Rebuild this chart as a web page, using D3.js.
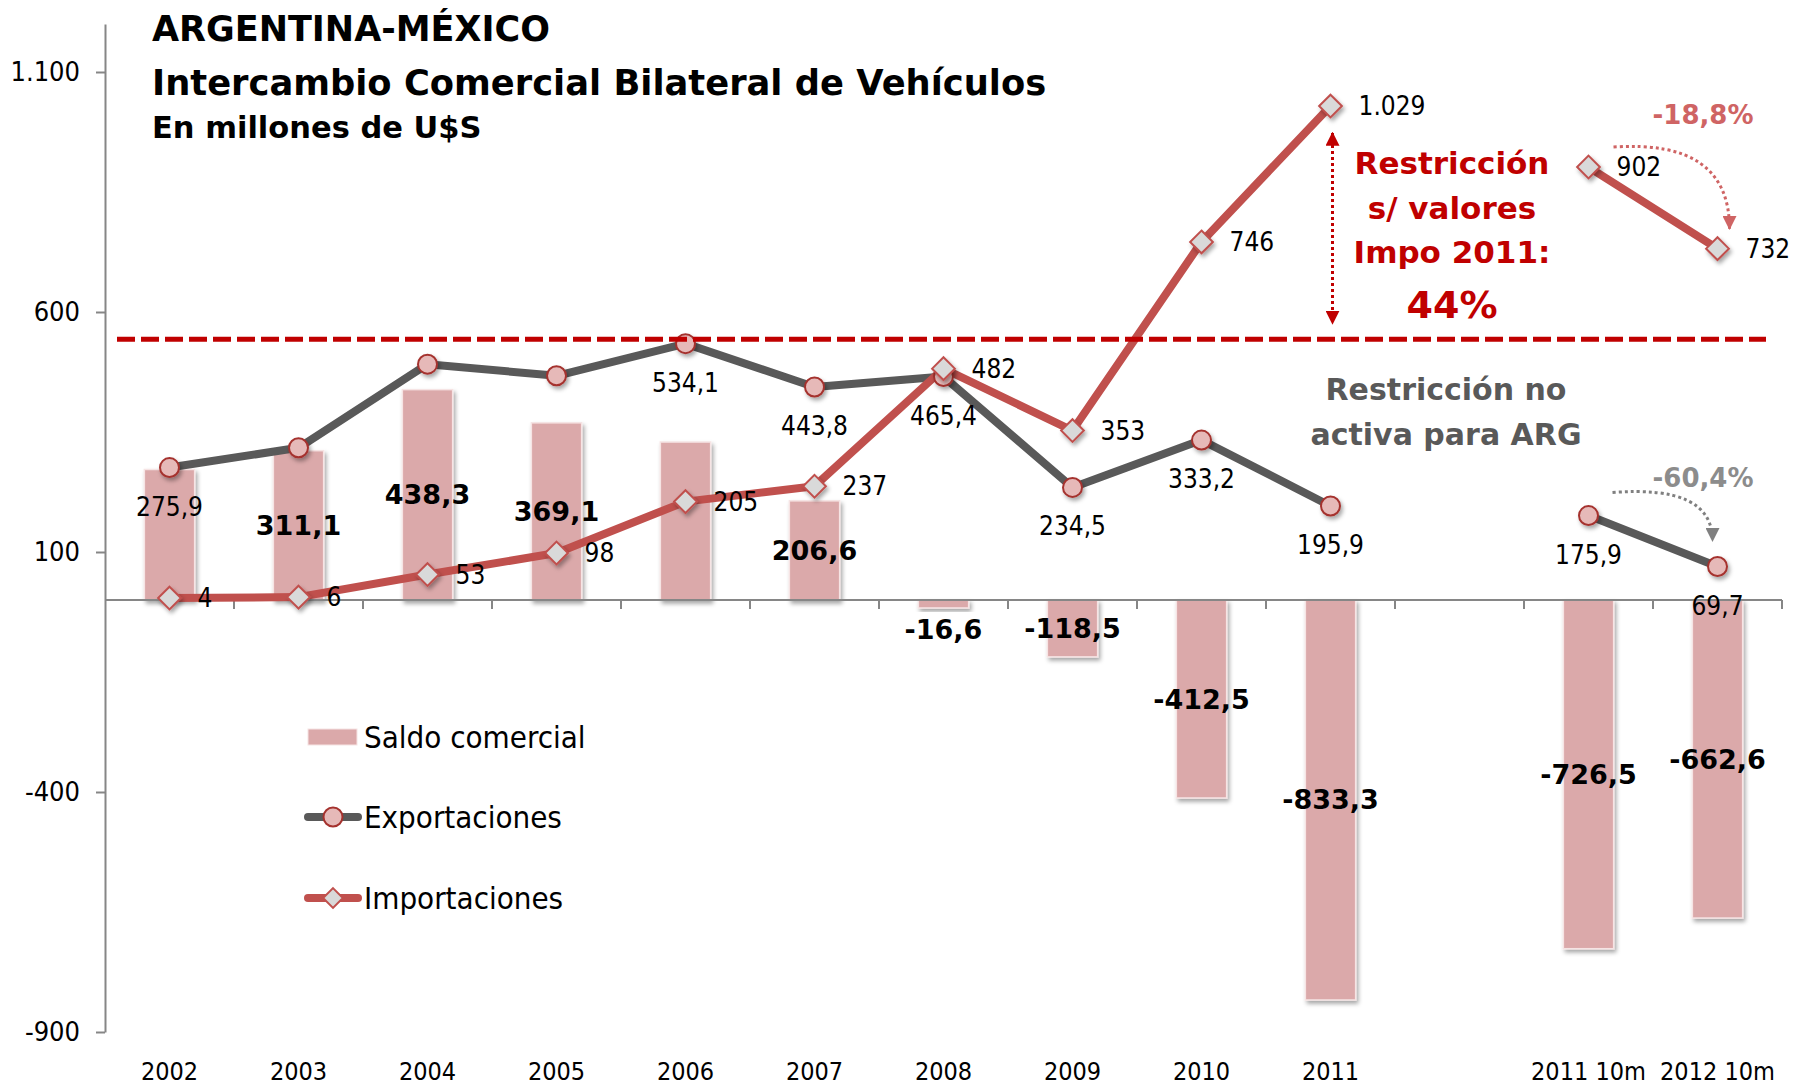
<!DOCTYPE html>
<html>
<head>
<meta charset="utf-8">
<script src="https://cdn.jsdelivr.net/npm/d3@7"></script>
<style>
  body { margin: 0; background: #fff; }
  svg { font-family: "DejaVu Sans Condensed", "DejaVu Sans", sans-serif; }
  .bold { font-family: "DejaVu Sans", sans-serif; font-weight: bold; }
</style>
</head>
<body>
<svg width="1800" height="1088"></svg>
<script>
// categories ('' is the empty slot between 2011 and the 10-month columns)
const categories    = ['2002', '2003', '2004', '2005', '2006', '2007', '2008', '2009', '2010', '2011', '', '2011 10m', '2012 10m'];
const exportaciones = [275.9, 317.1, 491.3, 467.1, 534.1, 443.8, 465.4, 234.5, 333.2, 195.9, null, 175.9, 69.7];
const importaciones = [4, 6, 53, 98, 205, 237, 482, 353, 746, 1029, null, 902, 732];
const saldo         = [271.9, 311.1, 438.3, 369.1, 329.1, 206.6, -16.6, -118.5, -412.5, -833.3, null, -726.5, -662.6];

// which data labels appear in the original
const expLabelShown   = [1, 0, 0, 0, 1, 1, 1, 1, 1, 1, 0, 1, 1];
const saldoLabelShown = [0, 1, 1, 1, 0, 1, 1, 1, 1, 1, 0, 1, 1];

const yTicks = [-900, -400, 100, 600, 1100];
const restriccion = 543;   // dashed reference line

const svg = d3.select('svg');
const width  = +svg.attr('width');
const height = +svg.attr('height');

const es = d3.formatLocale({ decimal: ',', thousands: '.', grouping: [3], currency: ['$', ''], minus: '-' });
const fmtInt = es.format(',');
const fmtDec = es.format(',.1f');

const margin = { top: 24, right: 18, bottom: 56, left: 105 };

const x = d3.scaleBand()
  .domain(categories)
  .range([margin.left, width - margin.right]);

const y = d3.scaleLinear()
  .domain([-900, 1200])
  .range([height - margin.bottom, margin.top]);

const cx = c => x(c) + x.bandwidth() / 2;
const barW = x.bandwidth() * 0.39;

// defs: shadow + arrowheads
const defs = svg.append('defs');
const shadow = defs.append('filter').attr('id', 'shadow')
  .attr('x', '-50%').attr('y', '-50%').attr('width', '200%').attr('height', '200%');
shadow.append('feDropShadow')
  .attr('dx', 2).attr('dy', 3).attr('stdDeviation', 2)
  .attr('flood-color', '#000').attr('flood-opacity', 0.35);

const arrow = (id, color) => defs.append('marker')
  .attr('id', id)
  .attr('viewBox', '0 0 10 10')
  .attr('refX', 9).attr('refY', 5)
  .attr('markerUnits', 'userSpaceOnUse')
  .attr('markerWidth', 14).attr('markerHeight', 14)
  .attr('orient', 'auto-start-reverse')
  .append('path').attr('d', 'M0,0 L10,5 L0,10 z').attr('fill', color);
arrow('arrRed', '#c00000');
arrow('arrPink', '#cf6464');
arrow('arrGray', '#808080');

const rows = categories.map((c, i) => ({
  c, exp: exportaciones[i], imp: importaciones[i], sal: saldo[i],
  expShown: expLabelShown[i], salShown: saldoLabelShown[i]
}));

// y axis
const yAxisG = svg.append('g')
  .attr('transform', `translate(${margin.left},0)`)
  .call(d3.axisLeft(y).tickValues(yTicks).tickFormat(fmtInt).tickSize(9).tickSizeOuter(0).tickPadding(16));
yAxisG.selectAll('.domain, .tick line').attr('stroke', '#868686').attr('stroke-width', 2);
yAxisG.selectAll('.tick text').attr('font-size', 27).attr('fill', '#000')
  .attr('font-family', '"DejaVu Sans Condensed", "DejaVu Sans", sans-serif');

// category labels at the bottom
const xAxisG = svg.append('g')
  .attr('transform', `translate(0,${y(-900)})`)
  .call(d3.axisBottom(x).tickSize(0).tickPadding(30));
xAxisG.select('.domain').remove();
xAxisG.selectAll('.tick text').attr('font-size', 25).attr('fill', '#000')
  .attr('font-family', '"DejaVu Sans Condensed", "DejaVu Sans", sans-serif');

// bars (saldo comercial)
svg.append('g').selectAll('rect')
  .data(rows.filter(d => d.sal != null)).enter()
  .append('rect')
    .attr('x', d => cx(d.c) - barW / 2)
    .attr('width', barW)
    .attr('y', d => y(Math.max(0, d.sal)))
    .attr('height', d => Math.abs(y(d.sal) - y(0)))
    .attr('fill', '#dba9aa')
    .attr('stroke', '#f6e4e4')
    .attr('stroke-width', 1.5)
    .attr('filter', 'url(#shadow)');

// zero axis with band boundary ticks
svg.append('line')
  .attr('x1', x.range()[0]).attr('x2', x.range()[1])
  .attr('y1', y(0)).attr('y2', y(0))
  .attr('stroke', '#868686').attr('stroke-width', 2);
const bounds = categories.slice(1).map(c => x(c)).concat([x.range()[1]]);
svg.append('g').selectAll('line')
  .data(bounds).enter()
  .append('line')
    .attr('x1', d => d).attr('x2', d => d)
    .attr('y1', y(0)).attr('y2', y(0) + 9)
    .attr('stroke', '#868686').attr('stroke-width', 2);

// lines
const lineExp = d3.line().defined(d => d.exp != null).x(d => cx(d.c)).y(d => y(d.exp));
const lineImp = d3.line().defined(d => d.imp != null).x(d => cx(d.c)).y(d => y(d.imp));

svg.append('path').datum(rows)
  .attr('d', lineExp)
  .attr('fill', 'none').attr('stroke', '#595959').attr('stroke-width', 8)
  .attr('stroke-linejoin', 'round').attr('stroke-linecap', 'round');

svg.append('path').datum(rows)
  .attr('d', lineImp)
  .attr('fill', 'none').attr('stroke', '#c0504d').attr('stroke-width', 8)
  .attr('stroke-linejoin', 'round').attr('stroke-linecap', 'round');

// markers
svg.append('g').selectAll('circle')
  .data(rows.filter(d => d.exp != null)).enter()
  .append('circle')
    .attr('cx', d => cx(d.c)).attr('cy', d => y(d.exp))
    .attr('r', 9.5)
    .attr('fill', '#e6b9b8').attr('stroke', '#a5322e').attr('stroke-width', 2)
    .attr('filter', 'url(#shadow)');

const diamond = d3.symbol().type(d3.symbolDiamond2).size(330);
svg.append('g').selectAll('path')
  .data(rows.filter(d => d.imp != null)).enter()
  .append('path')
    .attr('d', diamond)
    .attr('transform', d => `translate(${cx(d.c)},${y(d.imp)})`)
    .attr('fill', '#d9d9d9').attr('stroke', '#c0504d').attr('stroke-width', 2)
    .attr('filter', 'url(#shadow)');

// dashed restriction line
svg.append('line')
  .attr('x1', x.range()[0] + 12).attr('x2', x.range()[1] - 16)
  .attr('y1', y(restriccion)).attr('y2', y(restriccion))
  .attr('stroke', '#c00000').attr('stroke-width', 5)
  .attr('stroke-dasharray', '18,6');

// data labels
svg.append('g').selectAll('text')
  .data(rows.filter(d => d.expShown)).enter()
  .append('text')
    .attr('x', d => cx(d.c)).attr('y', d => y(d.exp) + 39)
    .attr('text-anchor', 'middle').attr('dominant-baseline', 'central')
    .attr('font-size', 26)
    .text(d => fmtDec(d.exp));

svg.append('g').selectAll('text')
  .data(rows.filter(d => d.imp != null)).enter()
  .append('text')
    .attr('x', d => cx(d.c) + 28).attr('y', d => y(d.imp))
    .attr('dominant-baseline', 'central')
    .attr('font-size', 26)
    .text(d => fmtInt(d.imp));

svg.append('g').selectAll('text')
  .data(rows.filter(d => d.salShown)).enter()
  .append('text')
    .attr('class', 'bold')
    .attr('x', d => cx(d.c))
    .attr('y', d => Math.abs(y(d.sal) - y(0)) < 30 ? y(d.sal) + 22 : y(d.sal / 2))
    .attr('text-anchor', 'middle').attr('dominant-baseline', 'central')
    .attr('font-size', 27)
    .text(d => fmtDec(d.sal));

// title
const title = svg.append('g').attr('class', 'bold').attr('fill', '#000');
title.append('text').attr('x', 152).attr('y', 41).attr('font-size', 35).text('ARGENTINA-MÉXICO');
title.append('text').attr('x', 152).attr('y', 95).attr('font-size', 35.3).text('Intercambio Comercial Bilateral de Vehículos');
title.append('text').attr('x', 152).attr('y', 138).attr('font-size', 30.5).text('En millones de U$S');

// legend
const legend = svg.append('g').attr('transform', 'translate(308,0)');
legend.append('rect').attr('x', 0).attr('y', 729).attr('width', 49).attr('height', 16)
  .attr('fill', '#dba9aa').attr('stroke', '#f6e4e4');
legend.append('line').attr('x1', 0).attr('x2', 50).attr('y1', 817).attr('y2', 817)
  .attr('stroke', '#595959').attr('stroke-width', 8).attr('stroke-linecap', 'round');
legend.append('circle').attr('cx', 25).attr('cy', 817).attr('r', 9.5)
  .attr('fill', '#e6b9b8').attr('stroke', '#a5322e').attr('stroke-width', 2);
legend.append('line').attr('x1', 0).attr('x2', 50).attr('y1', 898).attr('y2', 898)
  .attr('stroke', '#c0504d').attr('stroke-width', 8).attr('stroke-linecap', 'round');
legend.append('path').attr('d', d3.symbol().type(d3.symbolDiamond2).size(250))
  .attr('transform', 'translate(25,898)')
  .attr('fill', '#d9d9d9').attr('stroke', '#c0504d').attr('stroke-width', 2);
[['Saldo comercial', 737], ['Exportaciones', 817], ['Importaciones', 898]].forEach(([t, ty]) => {
  legend.append('text').attr('x', 56).attr('y', ty)
    .attr('dominant-baseline', 'central').attr('font-size', 31).text(t);
});

// annotation: restriction on 2011 imports
const i2011 = categories.indexOf('2011');
const ax = cx('2011') + 2;
svg.append('line')
  .attr('x1', ax).attr('x2', ax)
  .attr('y1', y(importaciones[i2011]) + 27).attr('y2', y(restriccion) - 16)
  .attr('stroke', '#c00000').attr('stroke-width', 3).attr('stroke-dasharray', '3,3')
  .attr('marker-start', 'url(#arrRed)').attr('marker-end', 'url(#arrRed)');

const red = svg.append('g').attr('class', 'bold').attr('fill', '#c00000').attr('text-anchor', 'middle');
[['Restricción', 174], ['s/ valores', 219], ['Impo 2011:', 263]].forEach(([t, ty]) => {
  red.append('text').attr('x', 1452).attr('y', ty).attr('font-size', 31).text(t);
});
red.append('text').attr('x', 1452).attr('y', 318).attr('font-size', 38).text('44%');

const grey = svg.append('g').attr('class', 'bold').attr('fill', '#595959').attr('text-anchor', 'middle');
grey.append('text').attr('x', 1446).attr('y', 400).attr('font-size', 30).text('Restricción no');
grey.append('text').attr('x', 1446).attr('y', 445).attr('font-size', 30).text('activa para ARG');

// variation arrows between the 10-month columns
const iA = categories.indexOf('2011 10m');
const iB = categories.indexOf('2012 10m');
const curve = (p0, p1) => `M${p0[0]},${p0[1]} Q${p1[0]},${p0[1] - 8} ${p1[0]},${p1[1]}`;

svg.append('path')
  .attr('d', curve([cx(categories[iA]) + 25, y(importaciones[iA]) - 20], [cx(categories[iB]) + 12, y(importaciones[iB]) - 20]))
  .attr('fill', 'none').attr('stroke', '#cf6464').attr('stroke-width', 3).attr('stroke-dasharray', '3,3')
  .attr('marker-end', 'url(#arrPink)');
svg.append('text').attr('class', 'bold')
  .attr('x', 1703).attr('y', 124).attr('text-anchor', 'middle')
  .attr('font-size', 26).attr('fill', '#cf6464').text('-18,8%');

svg.append('path')
  .attr('d', curve([cx(categories[iA]) + 24, y(exportaciones[iA]) - 23], [cx(categories[iB]) - 5, y(exportaciones[iB]) - 26]))
  .attr('fill', 'none').attr('stroke', '#808080').attr('stroke-width', 3).attr('stroke-dasharray', '3,3')
  .attr('marker-end', 'url(#arrGray)');
svg.append('text').attr('class', 'bold')
  .attr('x', 1703).attr('y', 487).attr('text-anchor', 'middle')
  .attr('font-size', 26).attr('fill', '#8c8c8c').text('-60,4%');
</script>
</body>
</html>
